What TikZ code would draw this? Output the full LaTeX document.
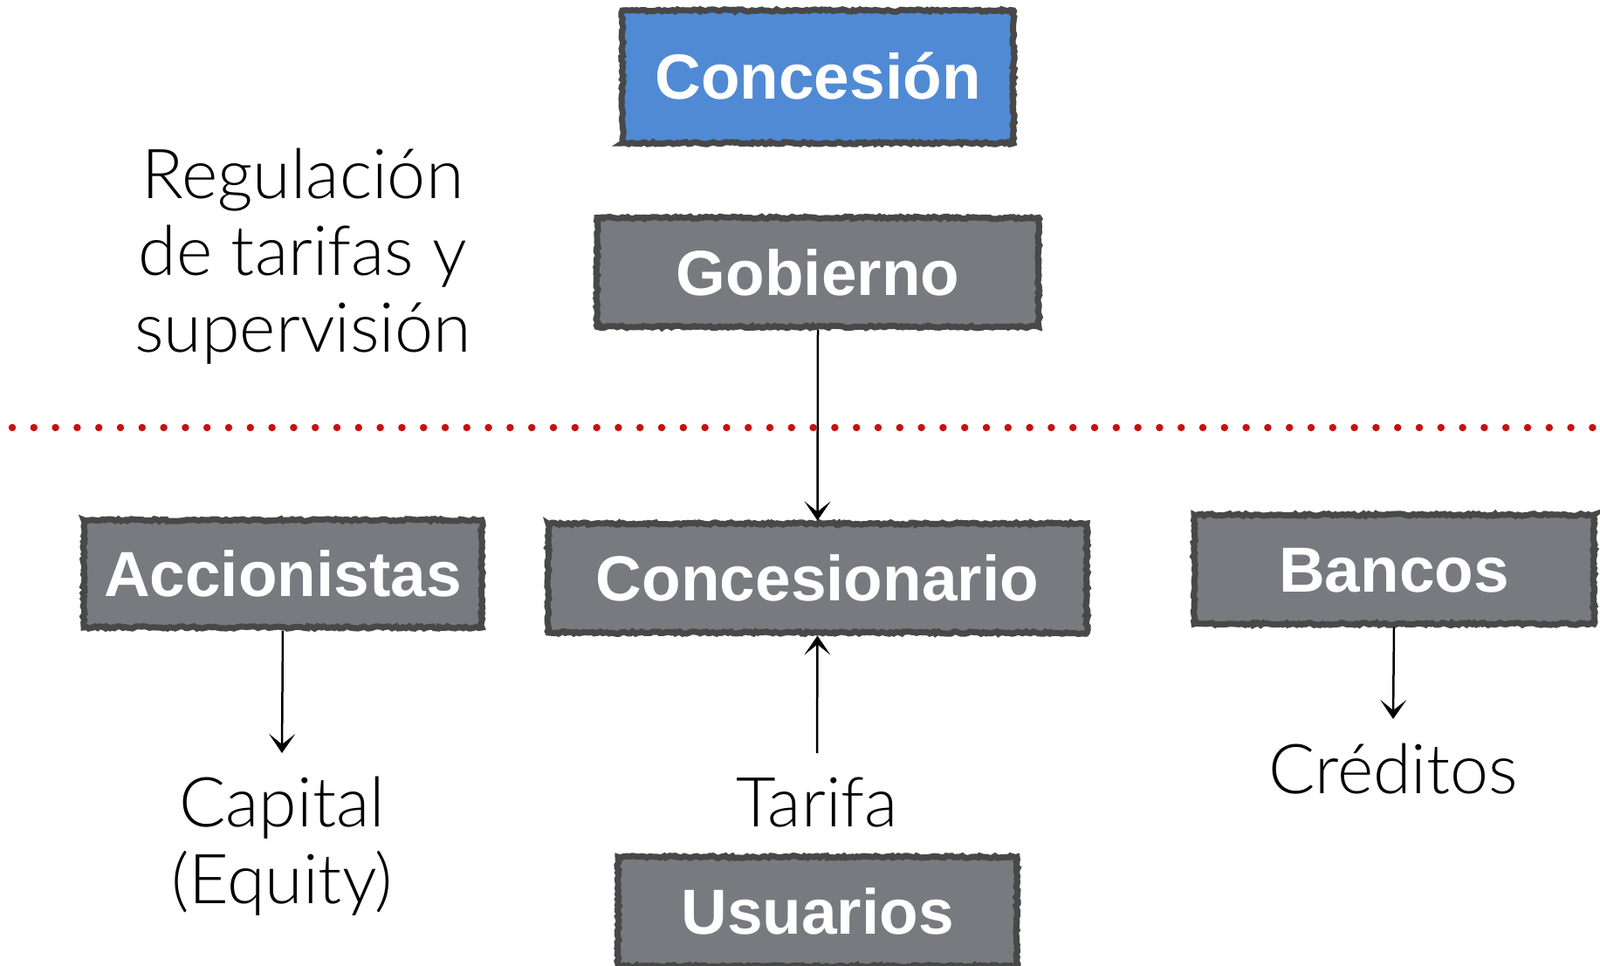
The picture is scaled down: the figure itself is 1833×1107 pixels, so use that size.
\documentclass[tikz,border=0pt]{standalone}
\usepackage{fontspec}
\setmainfont{Liberation Sans}
\newfontfamily\lightfont{Lato Light}
\usetikzlibrary{decorations.pathmorphing,shadows,arrows.meta}
\definecolor{conblue}{RGB}{80,138,212}
\definecolor{boxgray}{RGB}{120,122,127}
\definecolor{boxline}{RGB}{72,72,72}
\definecolor{dotred}{RGB}{200,16,16}
\begin{document}
\begin{tikzpicture}[x=1pt,y=-1pt,
  box/.style={draw=boxline, line width=7pt, fill=boxgray, text=white,
    font=\bfseries\fontsize{73}{80}\selectfont, inner sep=0pt,
    text height=52pt, text depth=0pt,
    decorate, decoration={random steps, segment length=3pt, amplitude=1.3pt},
    drop shadow={shadow xshift=3pt, shadow yshift=-3pt, opacity=0.25, fill=black}},
  plain/.style={font=\lightfont\fontsize{79}{88}\selectfont, anchor=base, inner sep=0pt},
  flow/.style={line width=2.5pt, draw=black, -{Stealth[length=22pt,width=30pt,inset=12pt]}}
]
\useasboundingbox (0,0) rectangle (1833,1107);
\begin{scope}
\clip (0,0) rectangle (1833,1107);
% boxes
\node[box, fill=conblue, minimum width=448pt, minimum height=152pt] (concesion) at (937,88) {Concesión};
\node[box, minimum width=506pt, minimum height=125pt] (gobierno) at (937,312) {Gobierno};
\node[box, minimum width=617pt, minimum height=125pt] (concesionario) at (936.5,662.5) {Concesionario};
\node[box, minimum width=456pt, minimum height=123pt] (accionistas) at (324,657.5) {Accionistas};
\node[box, minimum width=458pt, minimum height=125pt] (bancos) at (1597,652.5) {Bancos};
\node[box, minimum width=457pt, minimum height=125pt] (usuarios) at (936.5,1044.5) {Usuarios};
% plain texts
\node[plain] (reg1) at (347,228) {Regulación};
\node[plain] (reg2) at (347,316) {de tarifas y};
\node[plain] (reg3) at (347,403) {supervisión};
\node[plain] (cap1) at (323,947) {Capital};
\node[plain] (cap2) at (323,1035) {(Equity)};
\node[plain] (tarifa) at (936,947) {Tarifa};
\node[plain] (creditos) at (1596,909) {Créditos};
% dotted separator
\coordinate (sepL) at (14,490);
\coordinate (sepR) at (1826,490);
\draw[dotred, line width=8.5pt, line cap=round, dash pattern=on 0pt off 24.8pt] (sepL) -- (sepR);
% connectors
\coordinate (capTip) at (323,863);
\coordinate (tarTail) at (936,863);
\coordinate (credTip) at (1596,824);
\draw[flow] (gobierno.south) -- (concesionario.north);
\draw[flow] (accionistas.south) -- (capTip);
\draw[flow] (tarTail) -- (concesionario.south);
\draw[flow] (bancos.south) -- (credTip);
\end{scope}
\end{tikzpicture}
\end{document}
